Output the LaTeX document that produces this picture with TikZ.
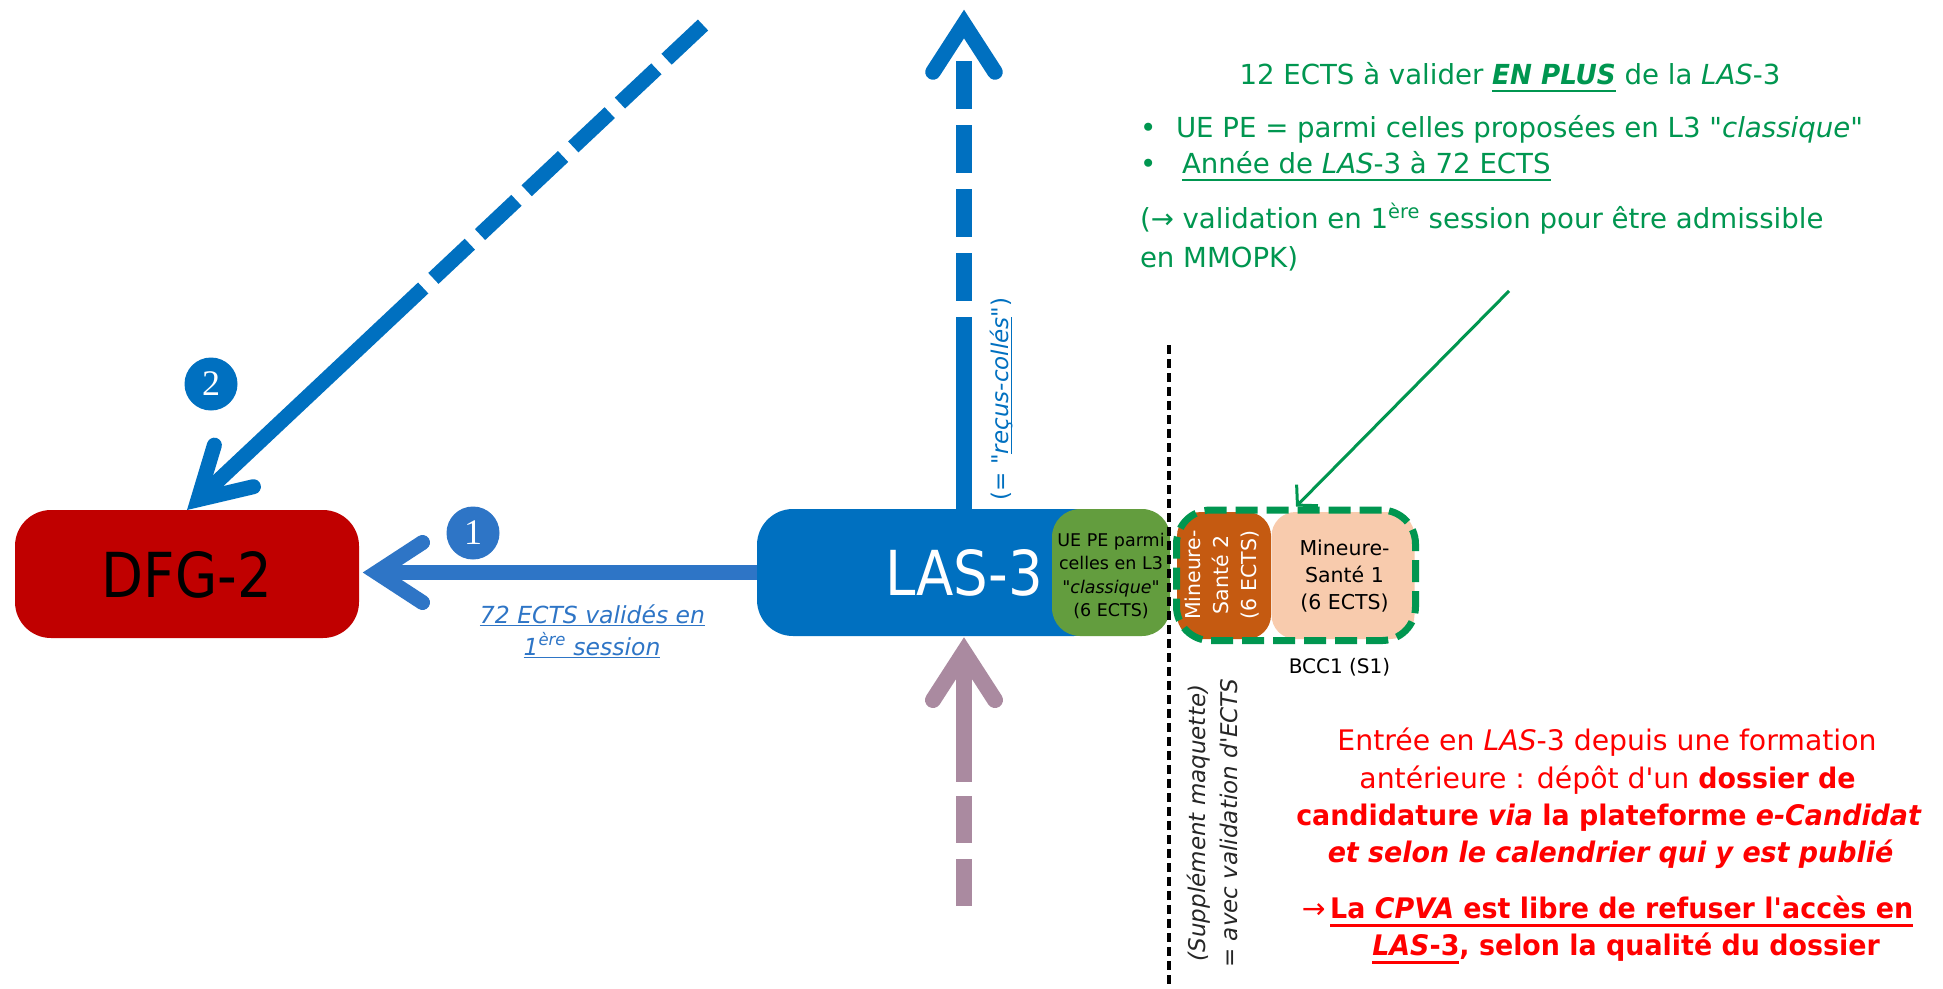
\documentclass[tikz,border=0pt]{standalone}
\usepackage{fontspec}
\setmainfont{DejaVu Sans}[BoldFeatures={FakeStretch=0.95}, BoldItalicFeatures={FakeStretch=0.95}]
\newfontfamily\tah{DejaVu Sans}[FakeStretch=0.88]
\newfontfamily\serifd{Liberation Serif}
\usetikzlibrary{calc,arrows.meta}
\definecolor{dfgred}{RGB}{192,0,0}
\definecolor{lasblue}{RGB}{0,112,192}
\definecolor{arrblue}{RGB}{46,117,198}
\definecolor{uegreen}{RGB}{99,157,62}
\definecolor{mtwoorange}{RGB}{197,90,17}
\definecolor{monepeach}{RGB}{248,203,173}
\definecolor{dgreen}{RGB}{0,150,80}
\definecolor{mauve}{RGB}{170,138,160}
\definecolor{txtred}{RGB}{255,0,0}
\newcommand\myul[1]{\setbox0=\hbox{#1}\rlap{\rule[-0.3em]{\wd0}{0.09em}}\box0\relax}
\newcommand\myulthin[1]{\setbox0=\hbox{#1}\rlap{\rule[-0.14em]{\wd0}{0.06em}}\box0\relax}
\newcommand\dq{\textquotedbl}
\tikzset{
  txt/.style={inner sep=0pt, outer sep=0pt},
  blockbox/.style={rectangle, inner sep=0pt, outer sep=0pt, minimum height=127pt},
  fat/.style={line width=15pt},
  headstyle/.style={line cap=round, line join=miter},
  greent/.style={txt, anchor=base west, text=dgreen, font=\fontsize{27.6}{36}\selectfont},
  redt/.style={txt, anchor=base, text=txtred, font=\fontsize{28.3}{36}\selectfont},
  circnum/.style={circle, inner sep=0pt, minimum size=53pt, text=white, font=\serifd\fontsize{36}{36}\selectfont},
}
\begin{document}
\begin{tikzpicture}[x=1pt,y=-1pt]
\fill[white] (0,0) rectangle (1943,988);
\path[use as bounding box] (0,0) rectangle (1943,988);

% ---------- main boxes (defined first for anchors) ----------
\node[blockbox, fill=dfgred, minimum width=344pt, minimum height=128pt, rounded corners=36pt] (DFG) at (187,574) {};
\node[txt, font=\tah\fontsize{62}{62}\selectfont] (DFGt) at (187,575) {DFG-2};

% ---------- arrow 2 (diagonal) ----------
\coordinate (a2s) at (703,25);
\coordinate (a2v) at ($(DFG.north)!15pt!(a2s)$);
\coordinate (a2m) at ($(a2s)!384pt!(DFG.north)$);
\draw[lasblue, fat, dash pattern=on 50pt off 14pt] (a2s) -- (a2m);
\draw[lasblue, fat] (a2m) -- (a2v);
\draw[lasblue, fat, headstyle] ($(a2v)!57pt!30:(a2s)$) -- (a2v) -- ($(a2v)!57pt!-30:(a2s)$);
\node[circnum, fill=lasblue] (c2) at (211,384) {2};

% ---------- LAS box ----------
\node[blockbox, fill=lasblue, minimum width=353pt, rounded corners=36pt] (LAS) at (933.5,572.5) {};

% ---------- arrow 1 (horizontal) ----------
\coordinate (a1tip) at ($(DFG.east |- LAS.west)+(4,0)$);
\coordinate (a1v) at ($(a1tip)+(13.5,0)$);
\draw[arrblue, fat] (LAS.west) -- (a1v);
\draw[arrblue, fat, headstyle] ($(a1v)+(46,-30)$) -- (a1v) -- ($(a1v)+(46,30)$);
\node[circnum, fill=arrblue] (c1) at (473,533) {1};
\node[txt, anchor=base, text=arrblue, font=\fontsize{23.5}{30}\selectfont\itshape] (l1a) at (592.5,623) {\myulthin{72 ECTS validés en}};
\node[txt, anchor=base, text=arrblue, font=\fontsize{23.5}{30}\selectfont\itshape] (l1b) at (592,655) {\myulthin{1\textsuperscript{ère} session}};

% ---------- vertical arrows ----------
\coordinate (upbase) at (964,509);
\coordinate (u1) at (964,317);
\coordinate (u0) at (964,61);
\coordinate (uv) at (964,24);
\draw[lasblue, line width=15.5pt] (upbase) -- (u1);
\draw[lasblue, line width=15.5pt, dash pattern=on 48pt off 16pt] (u0) -- (u1);
\draw[lasblue, line width=15.5pt, headstyle] ($(uv)+(-31,48)$) -- (uv) -- ($(uv)+(31,48)$);
\node[txt, rotate=90, text=lasblue, font=\fontsize{23}{23}\selectfont] (rc) at (1002,399) {(= \dq\myulthin{\textit{reçus-collés}}\dq)};

\coordinate (pv) at (964,652);
\coordinate (p1) at (964,782);
\coordinate (p2) at (964,796);
\coordinate (p3) at (964,907);
\draw[mauve, line width=16pt] (pv) -- (p1);
\draw[mauve, line width=16pt, dash pattern=on 47pt off 16pt] (p2) -- (p3);
\draw[mauve, line width=16pt, headstyle] ($(pv)+(-31,48)$) -- (pv) -- ($(pv)+(31,48)$);

% ---------- LAS text and side boxes ----------
\node[txt, text=white, font=\tah\fontsize{62}{62}\selectfont] (LASt) at (964,573) {LAS-3};
\node[blockbox, fill=uegreen, minimum width=118pt, rounded corners=28pt] (UE) at (1111,572.5) {};
\node[txt, align=center, font=\fontsize{17.5}{23.5}\selectfont] (UEt) at (1111,576) {UE PE parmi\\celles en L3\\\dq\textit{classique}\dq\\(6 ECTS)};

\node[blockbox, fill=mtwoorange, minimum width=94pt, rounded corners=24pt] (M2) at (1224,575.5) {};
\node[txt, rotate=90, align=center, text=white, font=\fontsize{20.5}{28}\selectfont] (M2t) at (1222,575) {Mineure-\\Santé 2\\(6 ECTS)};
\node[blockbox, fill=monepeach, minimum width=143pt, rounded corners=24pt] (M1) at (1343,575.5) {};
\node[txt, align=center, font=\fontsize{20.5}{27}\selectfont] (M1t) at (1344.5,576) {Mineure-\\Santé 1\\(6 ECTS)};

\node[rectangle, draw=dgreen, line width=7pt, dash pattern=on 22pt off 9pt, inner sep=0pt, minimum width=239pt, minimum height=130.5pt, rounded corners=34pt] (BCC) at (1296,575.3) {};
\node[txt, anchor=base, font=\fontsize{20}{20}\selectfont] (BCCt) at (1339.5,673) {BCC1 (S1)};

% ---------- black dashed separator ----------
\coordinate (vtop) at (1169,345);
\coordinate (vbot) at (1169,988);
\draw[black, line width=3.5pt, dash pattern=on 9pt off 5pt] (vtop) -- (vbot);
\node[txt, rotate=90, align=center, text=black!85, font=\fontsize{23}{32}\selectfont\itshape] (supp) at (1212,823) {(Supplément maquette)\\= avec validation d\textquotesingle ECTS};

% ---------- green text ----------
\node[greent, anchor=base] (g1) at (1510,84) {12 ECTS à valider \myul{\textbf{\textit{EN PLUS}}} de la \textit{LAS}-3};
\node[greent] (gb1) at (1140,137) {•};
\node[greent] (g2) at (1176,137) {UE PE = parmi celles proposées en L3 \dq\textit{classique}\dq};
\node[greent] (gb2) at (1140,173) {•};
\node[greent] (g3) at (1182,173) {\myul{Année de \textit{LAS}-3 à 72 ECTS}};
\node[greent] (g4) at (1140,228) {(→ validation en 1\textsuperscript{ère} session pour être admissible};
\node[greent] (g5) at (1140,267) {en MMOPK)};
\coordinate (gs) at (1509,291);
\draw[dgreen, line width=3pt, -{Straight Barb[length=14pt,width=30pt]}] (gs) -- (BCC.north);

% ---------- red text ----------
\node[redt] (r1) at (1607,750) {Entrée en \textit{LAS}-3 depuis une formation};
\node[redt] (r2) at (1607.5,788) {antérieure : dépôt d\textquotesingle un \textbf{dossier de}};
\node[redt] (r3) at (1609,825) {\textbf{candidature \textit{via} la plateforme \textit{e-Candidat}}};
\node[redt] (r4) at (1610.5,862) {\textbf{\textit{et selon le calendrier qui y est publié}}};
\node[redt] (r5) at (1607.5,918) {→\,\textbf{\myul{La \textit{CPVA} est libre de refuser l\textquotesingle accès en}}};
\node[redt] (r6) at (1626,955) {\textbf{\myul{\textit{LAS}-3}, selon la qualité du dossier}};
\end{tikzpicture}
\end{document}
